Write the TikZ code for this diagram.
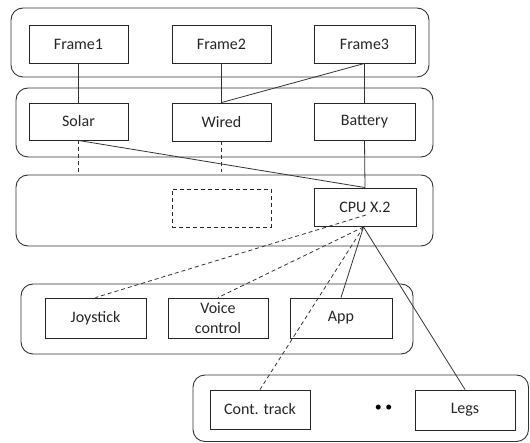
\documentclass[tikz,border=0pt]{standalone}
\usepackage{fontspec}
\setmainfont{Carlito}
\begin{document}
\begin{tikzpicture}[x=1pt,y=-1pt,
  group/.style={draw=black!80, line width=0.9pt, rounded corners=12pt, inner sep=0pt},
  box/.style={draw=black!85, line width=0.9pt, fill=white, inner sep=0pt,
    font=\fontsize{16}{19.5}\selectfont, text=black!85, align=center},
  ghost/.style={box, dash pattern=on 4pt off 3pt},
  link/.style={draw=black!80, line width=0.8pt},
  dlink/.style={link, dash pattern=on 4pt off 3pt}]
\useasboundingbox (0,0) rectangle (530,443);
% groups
\node[group, minimum width=418pt, minimum height=69pt] (g1) at (220,42.5) {};
\node[group, minimum width=417pt, minimum height=69pt] (g2) at (224.5,122.5) {};
\node[group, minimum width=417pt, minimum height=71pt] (g3) at (224.5,210.5) {};
\node[group, minimum width=392pt, minimum height=70pt] (g4) at (217,319) {};
\node[group, minimum width=335.5pt, minimum height=66.5pt] (g5) at (360.75,408.25) {};
% boxes
\node[box, minimum width=99pt, minimum height=38pt] (f1) at (78.5,44) {Frame1};
\node[box, minimum width=99pt, minimum height=38pt] (f2) at (221.5,44) {Frame2};
\node[box, minimum width=101pt, minimum height=38pt] (f3) at (364.5,44) {Frame3};
\node[box, minimum width=99pt, minimum height=37pt] (solar) at (78.5,121.5) {Solar};
\node[box, minimum width=99pt, minimum height=38pt] (wired) at (221.5,122) {Wired};
\node[box, minimum width=101pt, minimum height=37pt] (batt) at (364.5,121.5) {Battery};
\node[ghost, minimum width=99pt, minimum height=38pt] (empty) at (221.5,208) {};
\node[box, minimum width=102pt, minimum height=38pt] (cpu) at (365,207) {CPU X.2};
\node[box, minimum width=101pt, minimum height=40pt] (joy) at (95.5,318) {Joystick};
\node[box, minimum width=100pt, minimum height=40pt] (voice) at (218,318) {Voice\\control};
\node[box, minimum width=102pt, minimum height=40pt] (app) at (341,318) {App};
\node[box, minimum width=100pt, minimum height=39pt] (track) at (260,409.5) {Cont. track};
\node[box, minimum width=100pt, minimum height=40pt] (legs) at (465,410) {Legs};
\node[inner sep=0pt, font=\fontsize{14}{16}\selectfont, text=black] (dots) at (383.5,408) {•\hspace{3.5pt}•};
% coordinates
\coordinate (solarEnd) at (78.5,172);
\coordinate (wiredEnd) at (221.5,172);
\coordinate (cpuA) at (366,215);
\coordinate (cpuB) at (363.5,227);
% links
\draw[link] (f1.south) -- (solar.north);
\draw[link] (f2.south) -- (wired.north);
\draw[link] (f3.south) -- (wired.north);
\draw[link] (f3.south) -- (batt.north);
\draw[link] (batt.south) -- (cpu.north);
\draw[link] (solar.south) -- (cpu.north);
\draw[dlink] (solar.south) -- (solarEnd);
\draw[dlink] (wired.south) -- (wiredEnd);
\draw[dlink] (cpuA) -- (joy.north);
\draw[dlink] (cpuB) -- (voice.north);
\draw[dlink] (cpuB) -- (track.north);
\draw[link] (cpuB) -- (app.north);
\draw[link] (cpuB) -- (legs.north);
\end{tikzpicture}
\end{document}
